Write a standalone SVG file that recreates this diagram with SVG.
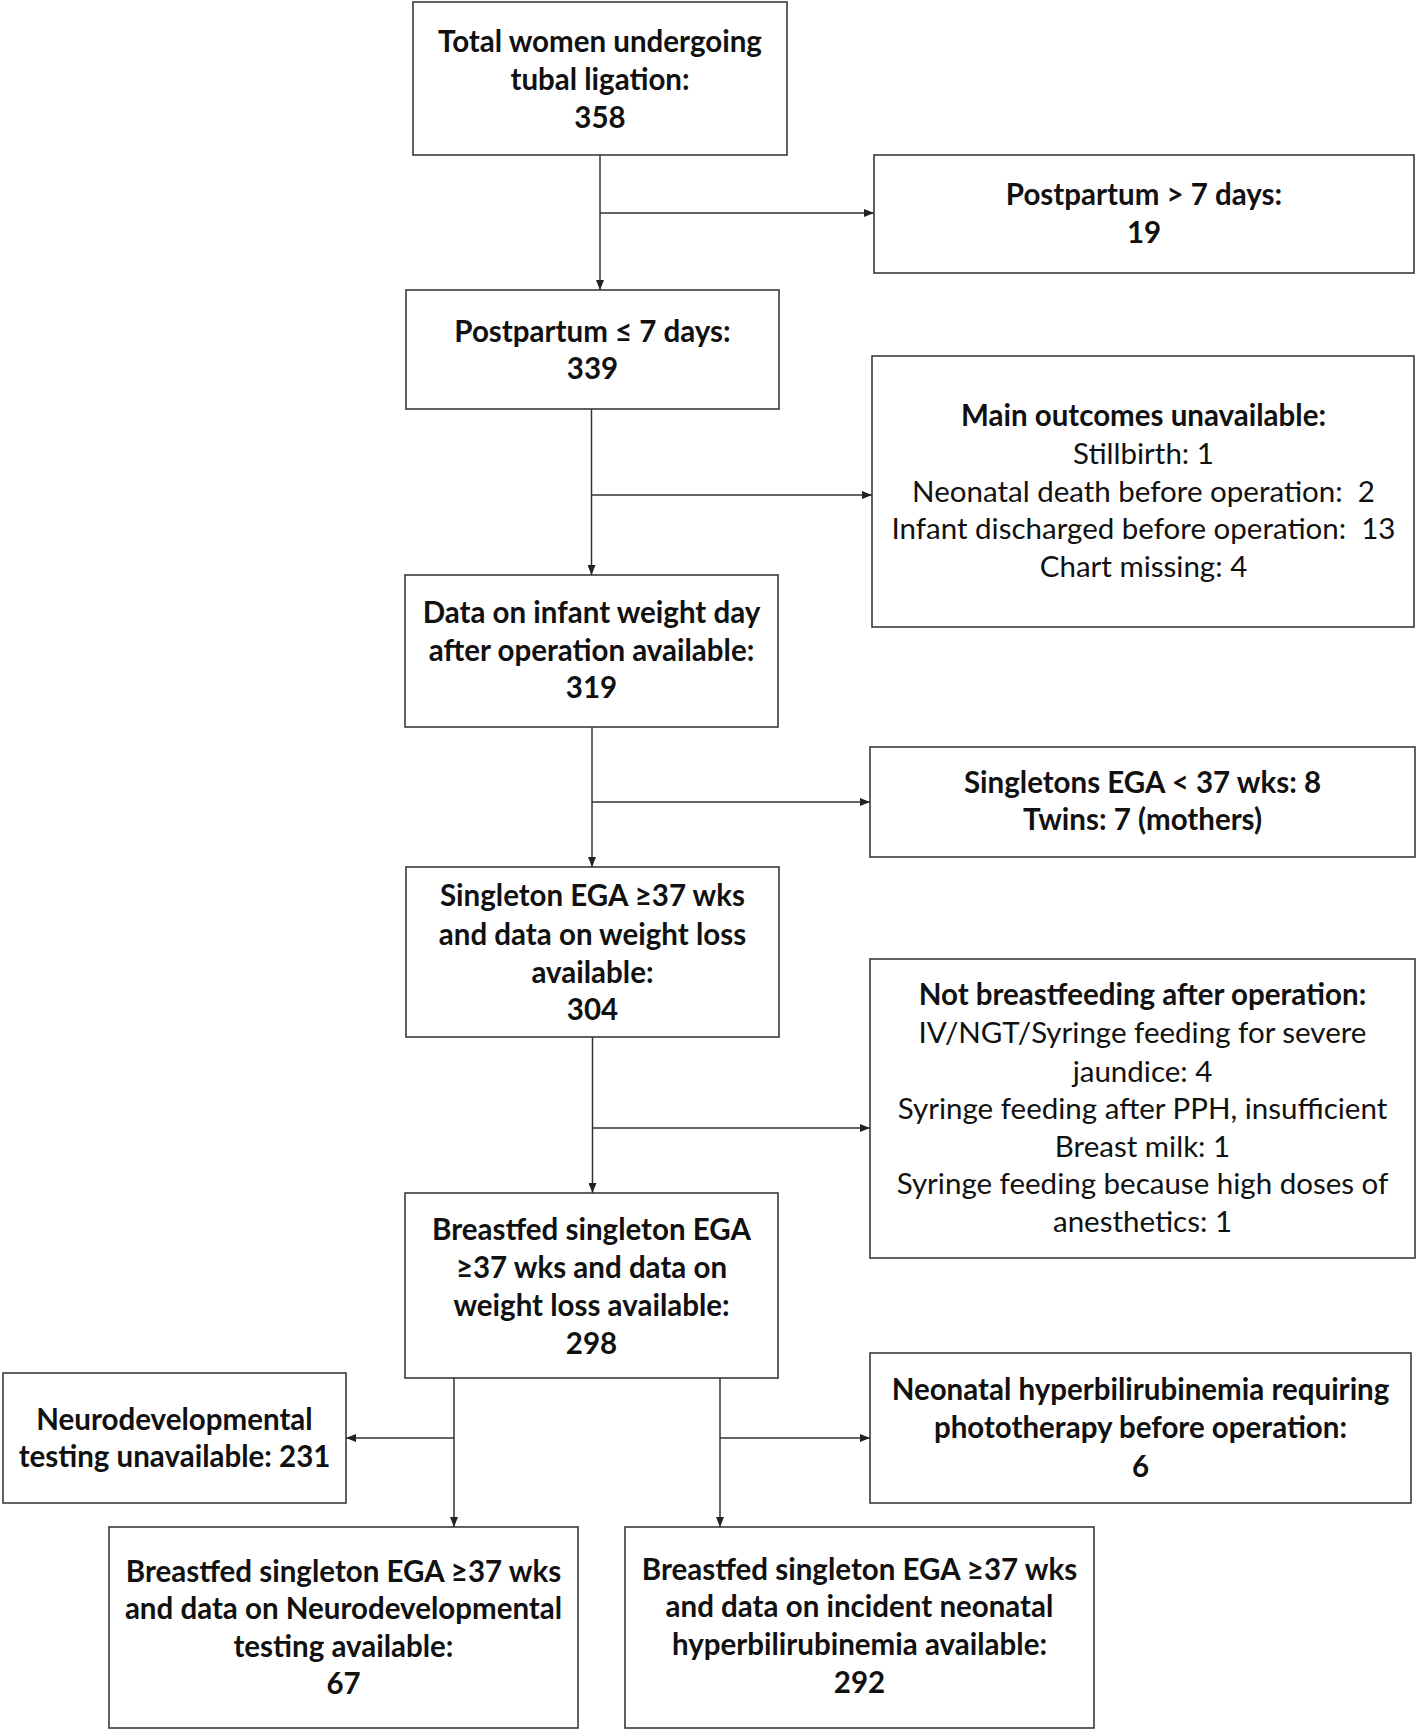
<svg xmlns="http://www.w3.org/2000/svg" width="1418" height="1732" viewBox="0 0 1418 1732">
<defs>
<style>
.box{fill:#fff;stroke:#3a3a3a;stroke-width:1.6}
.c{fill:none;stroke:#333;stroke-width:1.5}
text{font-family:Lato,"Open Sans",sans-serif;font-size:29.5px;fill:#111;text-anchor:middle}
.b{font-weight:bold}
</style>
<marker id="ah" markerWidth="10" markerHeight="8" refX="10" refY="4" orient="auto" markerUnits="userSpaceOnUse">
<path d="M0,0 L10,4 L0,8 Z" fill="#222"/>
</marker>
</defs>
<rect width="1418" height="1732" fill="#fff"/>
<g id="connectors">
<line class="c" x1="600" y1="155" x2="600" y2="290" marker-end="url(#ah)"/>
<line class="c" x1="600" y1="213" x2="874" y2="213" marker-end="url(#ah)"/>
<line class="c" x1="591.5" y1="409" x2="591.5" y2="575" marker-end="url(#ah)"/>
<line class="c" x1="591.5" y1="495" x2="872" y2="495" marker-end="url(#ah)"/>
<line class="c" x1="592" y1="727" x2="592" y2="867" marker-end="url(#ah)"/>
<line class="c" x1="592" y1="802" x2="870" y2="802" marker-end="url(#ah)"/>
<line class="c" x1="592.5" y1="1037" x2="592.5" y2="1193" marker-end="url(#ah)"/>
<line class="c" x1="592.5" y1="1128" x2="870" y2="1128" marker-end="url(#ah)"/>
<line class="c" x1="454" y1="1378" x2="454" y2="1527" marker-end="url(#ah)"/>
<line class="c" x1="454" y1="1438" x2="346" y2="1438" marker-end="url(#ah)"/>
<line class="c" x1="720" y1="1378" x2="720" y2="1527" marker-end="url(#ah)"/>
<line class="c" x1="720" y1="1438" x2="870" y2="1438" marker-end="url(#ah)"/>
</g>
<g id="n1"><rect class="box" x="413" y="2" width="374" height="153"/>
<text class="b" x="600" y="52">Total women undergoing</text>
<text class="b" x="600" y="90">tubal ligation:</text>
<text class="b" x="600" y="128">358</text></g>
<g id="n2"><rect class="box" x="874" y="155" width="540" height="118"/>
<text class="b" x="1144" y="205">Postpartum &gt; 7 days:</text>
<text class="b" x="1144" y="243">19</text></g>
<g id="n3"><rect class="box" x="406" y="290" width="373" height="119"/>
<text class="b" x="592.5" y="342">Postpartum ≤ 7 days:</text>
<text class="b" x="592.5" y="379">339</text></g>
<g id="n4"><rect class="box" x="872" y="356" width="542" height="271"/>
<text class="b" x="1143.5" y="426">Main outcomes unavailable:</text>
<text x="1143.5" y="464">Stillbirth: 1</text>
<text x="1143.5" y="502" xml:space="preserve">Neonatal death before operation:  2</text>
<text x="1143.5" y="539" xml:space="preserve">Infant discharged before operation:  13</text>
<text x="1143.5" y="577">Chart missing: 4</text></g>
<g id="n5"><rect class="box" x="405" y="575" width="373" height="152"/>
<text class="b" x="591.5" y="623">Data on infant weight day</text>
<text class="b" x="591.5" y="661">after operation available:</text>
<text class="b" x="591.5" y="698">319</text></g>
<g id="n6"><rect class="box" x="870" y="747" width="545" height="110"/>
<text class="b" x="1142.5" y="793">Singletons EGA &lt; 37 wks: 8</text>
<text class="b" x="1142.5" y="830">Twins: 7 (mothers)</text></g>
<g id="n7"><rect class="box" x="406" y="867" width="373" height="170"/>
<text class="b" x="592.5" y="906">Singleton EGA ≥37 wks</text>
<text class="b" x="592.5" y="945">and data on weight loss</text>
<text class="b" x="592.5" y="983">available:</text>
<text class="b" x="592.5" y="1020">304</text></g>
<g id="n8"><rect class="box" x="870" y="959" width="545" height="299"/>
<text class="b" x="1142.5" y="1005">Not breastfeeding after operation:</text>
<text x="1142.5" y="1043">IV/NGT/Syringe feeding for severe</text>
<text x="1142.5" y="1082">jaundice: 4</text>
<text x="1142.5" y="1119">Syringe feeding after PPH, insufficient</text>
<text x="1142.5" y="1157">Breast milk: 1</text>
<text x="1142.5" y="1194">Syringe feeding because high doses of</text>
<text x="1142.5" y="1232">anesthetics: 1</text></g>
<g id="n9"><rect class="box" x="405" y="1193" width="373" height="185"/>
<text class="b" x="591.5" y="1240">Breastfed singleton EGA</text>
<text class="b" x="591.5" y="1278">≥37 wks and data on</text>
<text class="b" x="591.5" y="1316">weight loss available:</text>
<text class="b" x="591.5" y="1354">298</text></g>
<g id="n10"><rect class="box" x="3" y="1373" width="343" height="130"/>
<text class="b" x="174.5" y="1430">Neurodevelopmental</text>
<text class="b" x="174.5" y="1467">testing unavailable: 231</text></g>
<g id="n11"><rect class="box" x="870" y="1353" width="541" height="150"/>
<text class="b" x="1140.5" y="1400">Neonatal hyperbilirubinemia requiring</text>
<text class="b" x="1140.5" y="1438">phototherapy before operation:</text>
<text class="b" x="1140.5" y="1477">6</text></g>
<g id="n12"><rect class="box" x="109" y="1527" width="469" height="201"/>
<text class="b" x="343.5" y="1582">Breastfed singleton EGA ≥37 wks</text>
<text class="b" x="343.5" y="1619">and data on Neurodevelopmental</text>
<text class="b" x="343.5" y="1657">testing available:</text>
<text class="b" x="343.5" y="1694">67</text></g>
<g id="n13"><rect class="box" x="625" y="1527" width="469" height="201"/>
<text class="b" x="859.5" y="1580">Breastfed singleton EGA ≥37 wks</text>
<text class="b" x="859.5" y="1617">and data on incident neonatal</text>
<text class="b" x="859.5" y="1655">hyperbilirubinemia available:</text>
<text class="b" x="859.5" y="1693">292</text></g>
</svg>
